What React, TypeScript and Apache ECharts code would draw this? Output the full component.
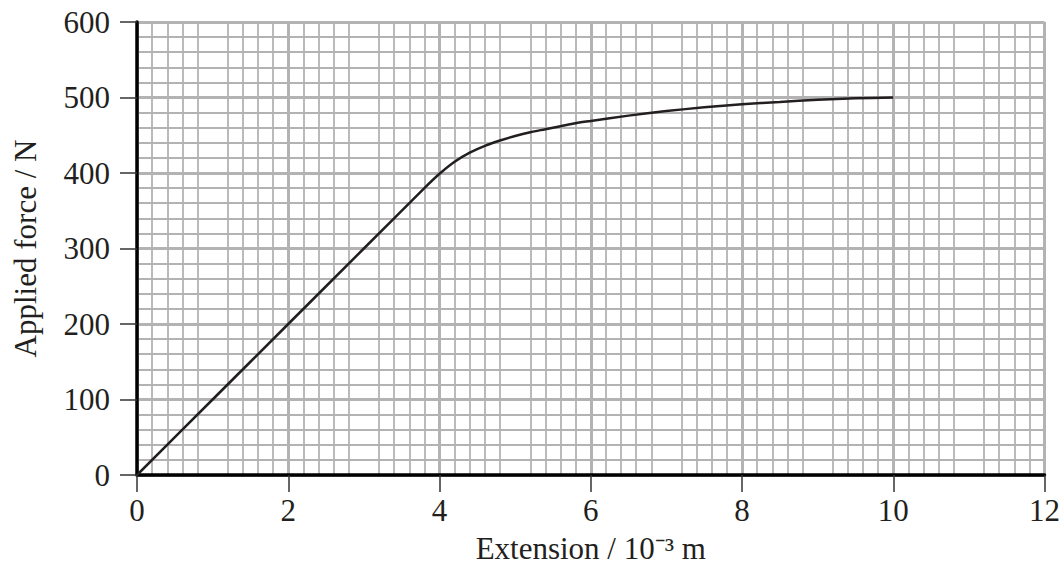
import React, { useEffect, useRef } from "react";
import * as echarts from "echarts";

const extension = [0, 1, 2, 3, 3.8, 4.0, 4.2, 4.4, 4.6, 4.8, 5.0, 5.2, 5.4, 5.6, 5.8, 6.0, 6.5, 7, 7.5, 8, 8.5, 9, 9.5, 10];
const force = [0, 100, 200, 300, 380, 399, 415, 427, 436, 443, 449, 454, 458, 462, 466, 469, 476, 482, 487, 491, 494, 497, 499, 500];
const xTickLabels = [0, 2, 4, 6, 8, 10, 12];
const yTickLabels = [0, 100, 200, 300, 400, 500, 600];

const FONT = "Liberation Serif";
const TEXT = "#231f20";
const GRID_GRAY = "#b3b3b3";

export default function App() {
  const ref = useRef<HTMLDivElement>(null);
  useEffect(() => {
    document.body.style.margin = "0";
    const chart = echarts.init(ref.current!, null, { renderer: "svg" });
    chart.setOption({
      animation: false,
      backgroundColor: "#ffffff",
      grid: { left: 137, right: 18, top: 22, bottom: 93 },
      xAxis: {
        type: "value",
        min: 0,
        max: 12,
        interval: 1,
        name: "Extension / 10\u207B\u00B3 m",
        nameLocation: "middle",
        nameGap: 58,
        nameTextStyle: { fontFamily: FONT, fontSize: 31, color: TEXT },
        axisLine: { show: true, onZero: false, lineStyle: { color: "#000", width: 3.5 } },
        axisTick: { show: true, length: 17, customValues: xTickLabels, lineStyle: { color: "#333", width: 1.5 } },
        axisLabel: { show: true, margin: 20, customValues: xTickLabels, fontFamily: FONT, fontSize: 31, color: TEXT },
        splitLine: { show: true, lineStyle: { color: GRID_GRAY, width: 3 } },
        minorTick: { show: false, splitNumber: 5 },
        minorSplitLine: { show: true, lineStyle: { color: GRID_GRAY, width: 1.8 } },
      },
      yAxis: {
        type: "value",
        min: 0,
        max: 600,
        interval: 100,
        name: "Applied force / N",
        nameLocation: "middle",
        nameGap: 96,
        nameTextStyle: { fontFamily: FONT, fontSize: 31, color: TEXT },
        axisLine: { show: true, onZero: false, lineStyle: { color: "#000", width: 3.5 } },
        axisTick: { show: true, length: 17, customValues: yTickLabels, lineStyle: { color: "#333", width: 1.5 } },
        axisLabel: { show: true, margin: 27, customValues: yTickLabels, fontFamily: FONT, fontSize: 31, color: TEXT },
        splitLine: { show: true, lineStyle: { color: GRID_GRAY, width: 3 } },
        minorTick: { show: false, splitNumber: 5 },
        minorSplitLine: { show: true, lineStyle: { color: GRID_GRAY, width: 1.8 } },
      },
      series: [
        {
          type: "line",
          data: extension.map((x, i) => [x, force[i]]),
          symbol: "none",
          smooth: 0.3,
          lineStyle: { color: "#231f20", width: 2.5 },
          z: 5,
        },
      ],
    });
    return () => chart.dispose();
  }, []);
  return <div ref={ref} style={{ width: 1063, height: 569 }} />;
}
